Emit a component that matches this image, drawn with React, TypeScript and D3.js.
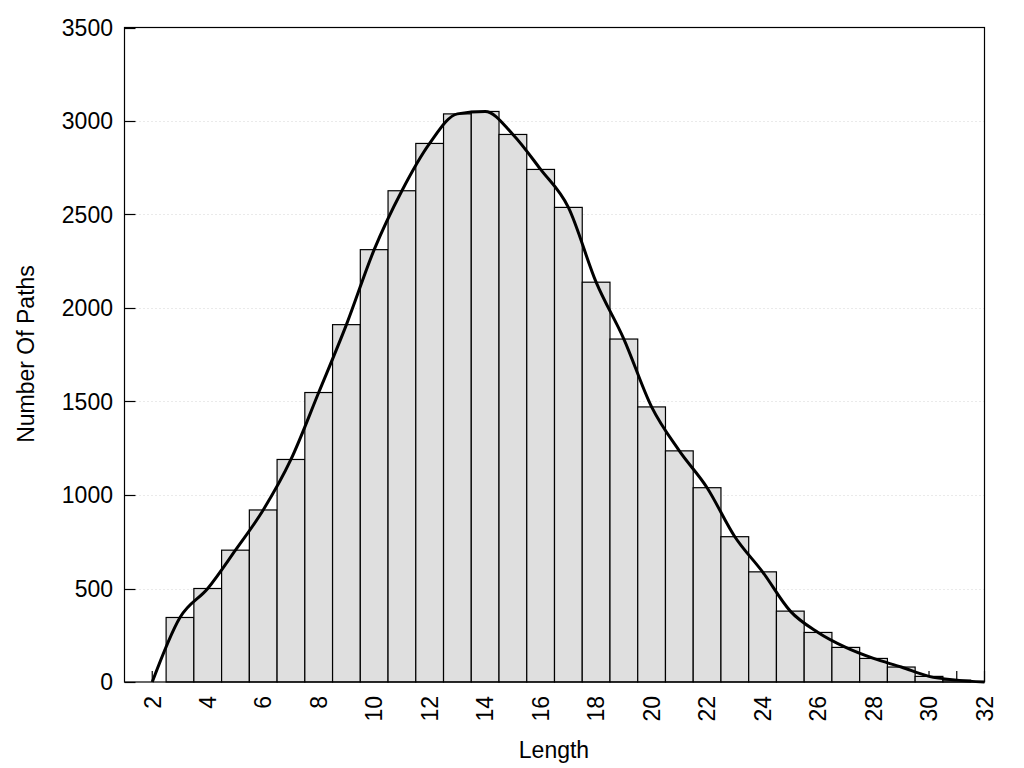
import React from "react";
import * as d3 from "d3";

const lengths: number[] = [2, 3, 4, 5, 6, 7, 8, 9, 10, 11, 12, 13, 14, 15, 16, 17, 18, 19, 20, 21, 22, 23, 24, 25, 26, 27, 28, 29, 30, 31, 32];
const counts: number[] = [0, 345, 500, 705, 920, 1190, 1548, 1911, 2312, 2627, 2880, 3038, 3051, 2928, 2741, 2538, 2138, 1834, 1471, 1236, 1039, 777, 589, 379, 265, 185, 126, 80, 30, 10, 0];
const xTickLabels: number[] = [2, 4, 6, 8, 10, 12, 14, 16, 18, 20, 22, 24, 26, 28, 30, 32];
const yTickLabels: number[] = [0, 500, 1000, 1500, 2000, 2500, 3000, 3500];
const xLabel = "Length";
const yLabel = "Number Of Paths";

const W = 1024;
const H = 768;
const left = 124.5;
const right = 984.5;
const top = 27.5;
const bottom = 682;
const FONT = "'Liberation Sans', Arial, Helvetica, sans-serif";
const FS = 23;

export default function App() {
  const x = d3.scaleLinear().domain([1, 32]).range([left, right]);
  const y = d3.scaleLinear().domain([0, 3500]).range([bottom, top]);
  const data = lengths.map((l, i) => ({ l, v: counts[i] }));
  const line = d3
    .line<{ l: number; v: number }>()
    .x((d) => x(d.l))
    .y((d) => y(d.v))
    .curve(d3.curveMonotoneX);
  const xMinorTicks = d3.range(2, 33);

  return (
    <svg
      width={W}
      height={H}
      style={{ position: "absolute", left: 0, top: 0, display: "block", background: "#fff" }}
      fontFamily={FONT}
    >
      <rect x={0} y={0} width={W} height={H} fill="#fff" />
      {/* grid */}
      {yTickLabels
        .filter((t) => t > 0 && t < 3500)
        .map((t) => (
          <line
            key={"g" + t}
            x1={left + 11}
            x2={right}
            y1={Math.round(y(t)) + 0.5}
            y2={Math.round(y(t)) + 0.5}
            stroke="#d4d4d4"
            strokeWidth={1}
            strokeDasharray="1,3"
          />
        ))}
      {/* x ticks (inside, behind bars) */}
      {xMinorTicks.map((t) => (
        <line
          key={"xt" + t}
          x1={x(t)}
          x2={x(t)}
          y1={bottom}
          y2={bottom - 11}
          stroke="#000"
          strokeWidth={1.2}
        />
      ))}
      {/* y ticks */}
      {yTickLabels.map((t) => (
        <line
          key={"yt" + t}
          x1={left}
          x2={left + 11}
          y1={Math.round(y(t)) + 0.5}
          y2={Math.round(y(t)) + 0.5}
          stroke="#000"
          strokeWidth={1.2}
        />
      ))}
      {/* bars */}
      {data
        .filter((d) => d.v > 0)
        .map((d) => (
          <rect
            key={"b" + d.l}
            x={x(d.l - 0.5)}
            y={y(d.v)}
            width={x(d.l + 0.5) - x(d.l - 0.5)}
            height={bottom - y(d.v)}
            fill="#dfdfdf"
            stroke="#000"
            strokeWidth={1.2}
          />
        ))}
      {/* curve */}
      <path d={line(data) || ""} fill="none" stroke="#000" strokeWidth={3} strokeLinejoin="round" />
      {/* frame */}
      <rect x={left} y={top} width={right - left} height={bottom - top} fill="none" stroke="#000" strokeWidth={1.2} />
      {/* y tick labels */}
      {yTickLabels.map((t) => (
        <text
          key={"yl" + t}
          x={113}
          y={y(t)}
          dy="0.36em"
          textAnchor="end"
          fontSize={FS}
          fill="#000"
        >
          {t}
        </text>
      ))}
      {/* x tick labels */}
      {xTickLabels.map((t) => (
        <text
          key={"xl" + t}
          transform={`translate(${x(t)},${696}) rotate(-90)`}
          dy="0.36em"
          textAnchor="end"
          fontSize={FS}
          fill="#000"
        >
          {t}
        </text>
      ))}
      <text x={554} y={758} textAnchor="middle" fontSize={FS} fill="#000">
        {xLabel}
      </text>
      <text
        transform={`translate(34,${354}) rotate(-90)`}
        textAnchor="middle"
        fontSize={FS}
        fill="#000"
      >
        {yLabel}
      </text>
    </svg>
  );
}
